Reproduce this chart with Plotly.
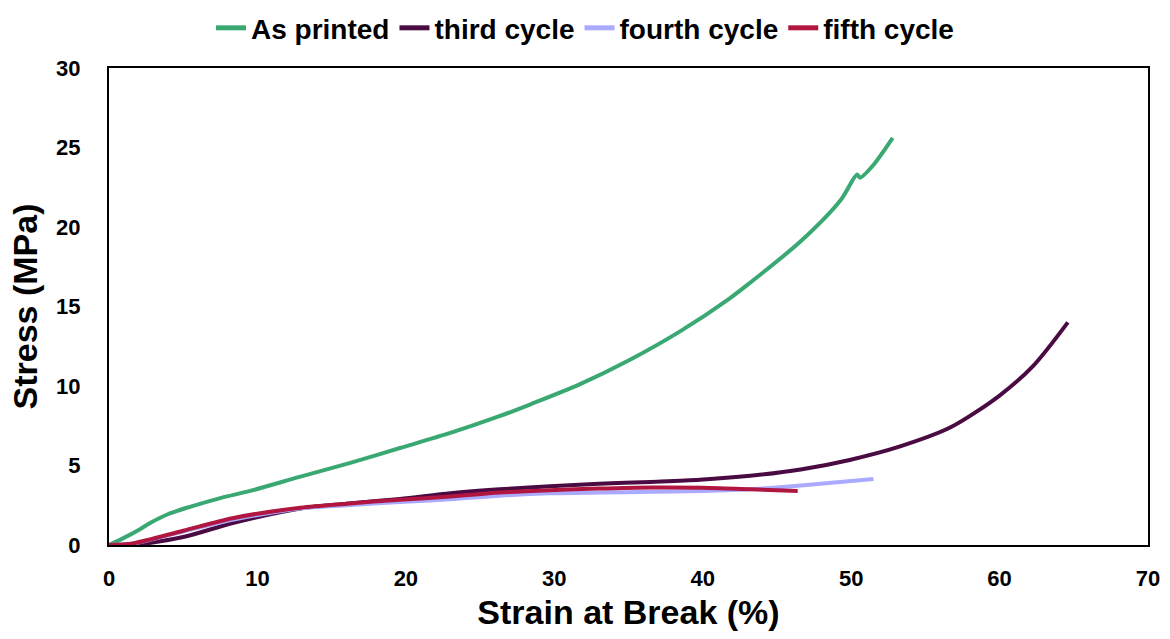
import plotly.graph_objects as go

# As printed
x_asp = [0, 1, 2, 2.8, 4, 5.45, 7.5, 9.5, 12.9, 16.2, 19.6, 23, 26.3, 28.4, 31.7, 35.1, 38.5, 41.8, 43.2, 46.6, 49.3, 50.4, 50.6, 51.5, 52.8]
y_asp = [0, 0.45, 0.95, 1.4, 1.95, 2.4, 2.95, 3.4, 4.3, 5.15, 6.1, 7.05, 8.1, 8.85, 10.1, 11.65, 13.45, 15.5, 16.5, 19.1, 21.7, 23.3, 23.1, 23.9, 25.6]

# third cycle
x_3 = [0, 2, 5, 8.4, 12.9, 16, 19.6, 23, 26.3, 29.7, 33, 36.5, 39.8, 43.2, 46.6, 49.9, 53.3, 56.7, 60, 62.3, 64.6]
y_3 = [0, 0.05, 0.5, 1.4, 2.3, 2.6, 2.9, 3.25, 3.5, 3.7, 3.85, 3.97, 4.1, 4.35, 4.75, 5.35, 6.2, 7.4, 9.4, 11.3, 14.0]

# fourth cycle
x_4 = [0, 1.6, 5, 8.4, 12.9, 16, 19.6, 23, 26.3, 29.7, 33, 36.5, 40, 43.2, 45.4, 48.5, 51.5]
y_4 = [0, 0.08, 0.85, 1.6, 2.3, 2.5, 2.7, 2.87, 3.1, 3.25, 3.3, 3.35, 3.4, 3.5, 3.65, 3.9, 4.15]

# fifth cycle
x_5 = [0, 1.6, 5, 8.4, 12.9, 16, 19.6, 23, 26.3, 29.7, 33, 36.5, 40, 43.2, 46.4]
y_5 = [0, 0.1, 0.9, 1.7, 2.35, 2.6, 2.85, 3.05, 3.3, 3.45, 3.55, 3.62, 3.6, 3.5, 3.4]

names = ["As printed", "third cycle", "fourth cycle", "fifth cycle"]
colors = ["#3aa873", "#4a0a42", "#aaaaff", "#b0163f"]
series = [(x_asp, y_asp), (x_3, y_3), (x_4, y_4), (x_5, y_5)]

fig = go.Figure()
for (xs, ys), n, c in zip(series, names, colors):
    fig.add_trace(go.Scatter(x=xs, y=ys, name=n, mode="lines",
                             line=dict(color=c, width=4, shape="spline", smoothing=0.8)))

font_family = "Liberation Sans, Arial, sans-serif"
fig.update_layout(
    width=1170, height=639,
    margin=dict(l=109, r=22, t=68, b=94, autoexpand=False),
    plot_bgcolor="white", paper_bgcolor="white",
    font=dict(family=font_family, color="black"),
    showlegend=True,
    legend=dict(orientation="h", x=0.5, xanchor="center", xref="container",
                y=0.956, yanchor="middle", yref="container",
                font=dict(size=28, family=font_family, color="black", weight="bold"),
                itemwidth=30, tracegroupgap=0, itemsizing="constant"),
    xaxis=dict(range=[0, 70], dtick=10, showgrid=False, zeroline=False,
               showline=True, linecolor="black", linewidth=2, mirror=True,
               ticks="", ticklabelstandoff=13,
               tickfont=dict(size=22, weight="bold"),
               title=dict(text="Strain at Break (%)", font=dict(size=34, weight="bold"), standoff=10)),
    yaxis=dict(range=[0, 30], dtick=5, showgrid=False, zeroline=False,
               showline=True, linecolor="black", linewidth=2, mirror=True,
               ticks="", ticklabelstandoff=22,
               tickfont=dict(size=22, weight="bold"),
               title=dict(text="Stress (MPa)", font=dict(size=34, weight="bold"), standoff=8)),
)

fig.write_html("out.html")
